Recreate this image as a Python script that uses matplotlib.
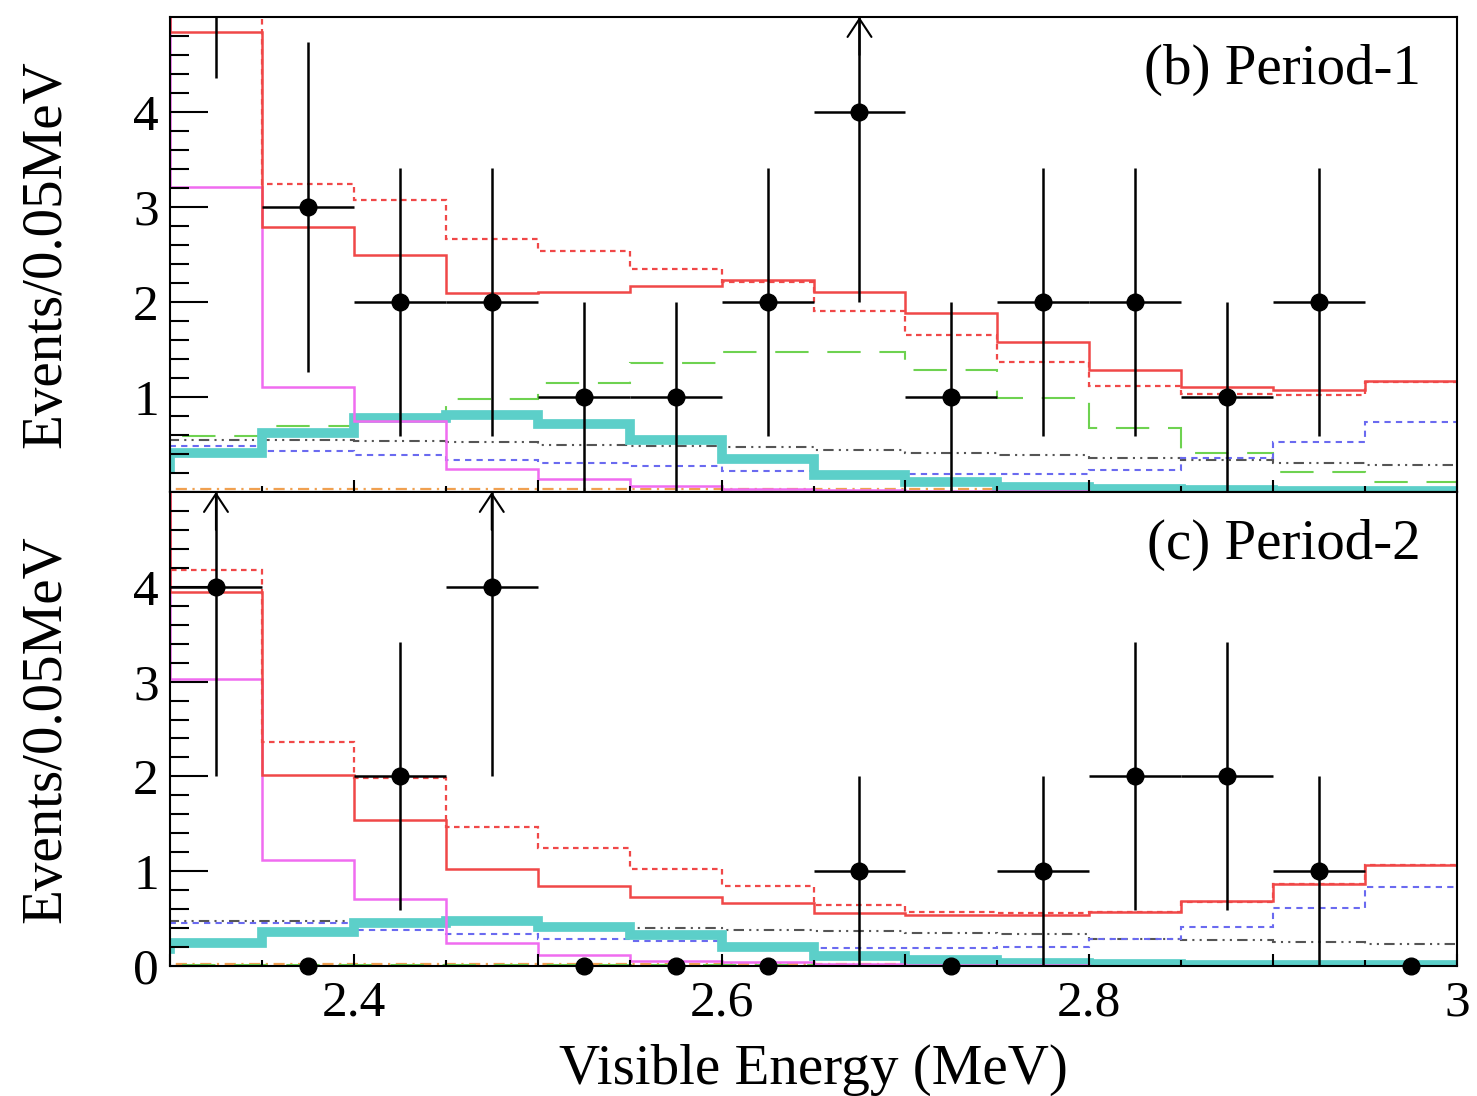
import numpy as np
import matplotlib
matplotlib.use('Agg')
import matplotlib.pyplot as plt
from matplotlib.ticker import FixedLocator, MultipleLocator, FuncFormatter

plt.rcParams['font.family'] = ['Liberation Serif', 'DejaVu Serif']

# bin edges 2.25..3.00; the first bin (2.25-2.30) is left of the drawn range
edges = np.round(np.arange(2.25, 3.001, 0.05), 2)
centers = np.round(edges[1:-1] + 0.025, 3)

# observed events per bin (2.30 - 3.00)
p1_counts = [7, 3, 2, 2, 1, 1, 2, 4, 1, 2, 2, 1, 2, 0]
p2_counts = [4, 0, 2, 4, 0, 0, 0, 1, 0, 1, 2, 2, 1, 0]

# Period-1 expectations (15 bins incl. 2.25-2.30)
p1_total = [8.0, 4.84, 2.79, 2.49, 2.09, 2.10, 2.17, 2.23, 2.10, 1.88, 1.58, 1.28, 1.11, 1.07, 1.17]
p1_total2 = [9.0, 5.6, 3.24, 3.07, 2.66, 2.54, 2.35, 2.21, 1.90, 1.65, 1.37, 1.12, 1.03, 1.02, 1.16]
p1_magenta = [9.0, 3.21, 1.11, 0.75, 0.24, 0.14, 0.06, 0.03, 0.02, 0.01, 0.01, 0.0, 0.0, 0.0, 0.0]
p1_green = [0.59, 0.59, 0.69, 0.81, 0.98, 1.15, 1.36, 1.47, 1.47, 1.28, 0.99, 0.67, 0.41, 0.21, 0.11]
p1_cyan = [0.25, 0.41, 0.62, 0.78, 0.81, 0.72, 0.55, 0.35, 0.18, 0.10, 0.05, 0.03, 0.02, 0.01, 0.01]
p1_blue = [0.48, 0.48, 0.43, 0.39, 0.34, 0.30, 0.27, 0.22, 0.20, 0.19, 0.19, 0.23, 0.36, 0.53, 0.74]
p1_gray = [0.55, 0.55, 0.55, 0.54, 0.53, 0.49, 0.48, 0.47, 0.44, 0.41, 0.39, 0.36, 0.34, 0.30, 0.28]
p1_orange = [0.03, 0.03, 0.03, 0.03, 0.03, 0.03, 0.03, 0.03, 0.03, 0.03, 0.03, 0.03, 0.03, 0.03, 0.03]

# Period-2 expectations
p2_total = [8.0, 3.95, 2.02, 1.54, 1.02, 0.84, 0.73, 0.66, 0.56, 0.54, 0.54, 0.57, 0.69, 0.87, 1.07]
p2_total2 = [9.0, 4.18, 2.36, 1.98, 1.47, 1.24, 1.02, 0.84, 0.64, 0.57, 0.56, 0.57, 0.68, 0.87, 1.07]
p2_magenta = [9.0, 3.03, 1.12, 0.71, 0.24, 0.12, 0.05, 0.04, 0.02, 0.01, 0.01, 0.0, 0.0, 0.0, 0.0]
p2_green = [0.01, 0.01, 0.01, 0.01, 0.01, 0.01, 0.01, 0.01, 0.01, 0.01, 0.01, 0.01, 0.01, 0.01, 0.01]
p2_cyan = [0.18, 0.24, 0.36, 0.45, 0.48, 0.41, 0.33, 0.20, 0.11, 0.06, 0.03, 0.02, 0.01, 0.01, 0.01]
p2_blue = [0.45, 0.45, 0.45, 0.38, 0.34, 0.28, 0.26, 0.19, 0.19, 0.19, 0.20, 0.28, 0.41, 0.61, 0.83]
p2_gray = [0.47, 0.47, 0.47, 0.45, 0.44, 0.41, 0.40, 0.38, 0.37, 0.35, 0.34, 0.29, 0.27, 0.25, 0.23]
p2_orange = [0.02, 0.02, 0.02, 0.02, 0.02, 0.02, 0.02, 0.02, 0.02, 0.02, 0.02, 0.02, 0.02, 0.02, 0.02]

x_labels = {2.4: '2.4', 2.6: '2.6', 2.8: '2.8', 3.0: '3'}
ymax = 5.0

# (colour, linewidth, linestyle)
styles = {
    'orange': ('#f0a050', 1.6, (0, (5, 2.5, 1, 2.5))),
    'green': ('#6ed250', 1.5, (0, (16, 9))),
    'gray': ('#555555', 1.5, (0, (5, 2.5, 1, 2.5, 1, 2.5))),
    'blue': ('#6a6af0', 1.5, (0, (3, 2.5))),
    'cyan': ('#5ccfc9', 7.0, '-'),
    'magenta': ('#f06cf0', 1.8, '-'),
    'total2': ('#f04848', 1.6, (0, (2.5, 2))),
    'total': ('#f04848', 1.8, '-'),
}


def draw_panel(ax, counts, hists, label, zero_dots):
    for name, vals in hists:
        col, lw, ls = styles[name]
        ax.stairs(vals, edges, baseline=None, color=col, lw=lw, linestyle=ls)

    c = np.array(counts, dtype=float)
    nz = c > 0
    ax.errorbar(centers[nz], c[nz], yerr=np.sqrt(c[nz]), xerr=0.025, fmt='o',
                color='k', ms=12, elinewidth=1.8, capsize=0, zorder=10)
    if zero_dots:
        ax.plot(centers[~nz], c[~nz], 'o', color='k', ms=12, clip_on=False, zorder=10)
    # arrows where the error bar leaves the frame
    for x, v in zip(centers, c):
        if 0 < v <= ymax and v + np.sqrt(v) > ymax:
            ax.annotate('', xy=(x, ymax), xytext=(x, ymax - 0.4),
                        arrowprops=dict(arrowstyle='->,head_length=0.65,head_width=0.43',
                                        mutation_scale=20, lw=1.5, color='k',
                                        shrinkA=0, shrinkB=0), zorder=11)

    ax.set_xlim(2.3, 3.0)
    ax.set_ylim(0, ymax)
    ax.text(0.972, 0.86, label, transform=ax.transAxes, ha='right', va='baseline', fontsize=41)
    ax.set_ylabel('Events/0.05MeV', fontsize=41)
    ax.yaxis.set_label_coords(-0.076, 0.5)

    ax.xaxis.set_major_locator(FixedLocator(np.round(np.arange(2.3, 3.001, 0.1), 2)))
    ax.xaxis.set_minor_locator(MultipleLocator(0.05))
    ax.xaxis.set_major_formatter(FuncFormatter(lambda v, p: x_labels.get(round(v, 2), '')))
    ax.yaxis.set_major_locator(FixedLocator([0, 1, 2, 3, 4]))
    ax.yaxis.set_minor_locator(FixedLocator(np.round(np.arange(0, 4.9, 0.2), 1)))
    ax.tick_params(axis='y', which='major', direction='in', length=27, width=1.5, labelsize=37, pad=8)
    ax.tick_params(axis='y', which='minor', direction='in', length=14, width=1.5)
    ax.tick_params(axis='x', which='major', direction='in', length=9, width=1.5, labelsize=37, pad=10)
    ax.tick_params(axis='x', which='minor', direction='in', length=4.5, width=1.5)
    for s in ax.spines.values():
        s.set_linewidth(1.5)


fig = plt.figure(figsize=(14.77, 10.96), dpi=100)
ax1 = fig.add_axes([0.1151, 0.5511, 0.8714, 0.4334])
ax2 = fig.add_axes([0.1151, 0.1186, 0.8714, 0.4325])

draw_panel(ax1, p1_counts,
           [('orange', p1_orange), ('green', p1_green), ('gray', p1_gray), ('blue', p1_blue),
            ('cyan', p1_cyan), ('magenta', p1_magenta), ('total2', p1_total2), ('total', p1_total)],
           '(b) Period-1', zero_dots=False)
draw_panel(ax2, p2_counts,
           [('orange', p2_orange), ('green', p2_green), ('gray', p2_gray), ('blue', p2_blue),
            ('cyan', p2_cyan), ('magenta', p2_magenta), ('total2', p2_total2), ('total', p2_total)],
           '(c) Period-2', zero_dots=True)

ax1.set_yticklabels(['', '1', '2', '3', '4'])
ax1.tick_params(axis='x', labelbottom=False)
ax2.set_xlabel('Visible Energy (MeV)', fontsize=41)
ax2.xaxis.set_label_coords(0.5, -0.165)

fig.savefig('out.png', dpi=100)
